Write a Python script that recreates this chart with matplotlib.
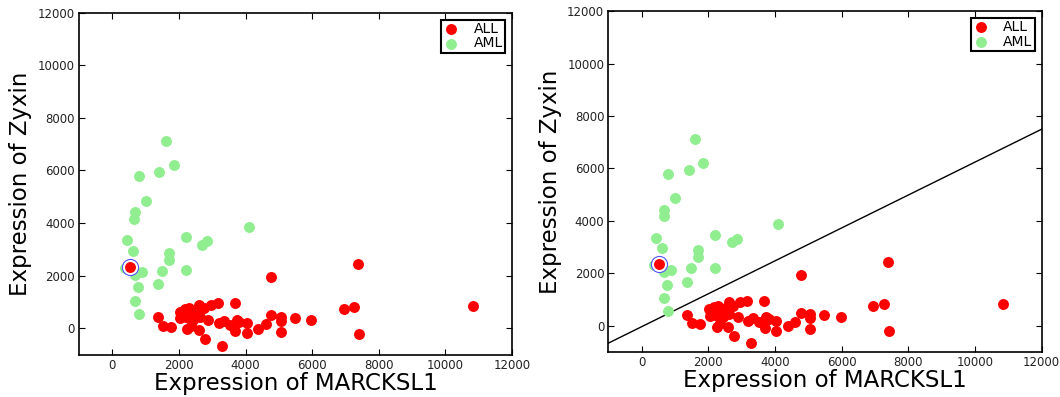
import matplotlib
matplotlib.use("Agg")
import matplotlib.pyplot as plt
import numpy as np

# ALL (red) points: MARCKSL1 expression, Zyxin expression
all_x = [1360, 1520, 1760, 2040, 2110, 2180, 2290, 2230, 2380, 2610, 2570, 2750,
         2960, 3160, 2880, 2630, 2430, 2250, 2360, 2600, 2770, 3280, 3200, 3350,
         3530, 3670, 3690, 3730, 3810, 4030, 4040, 4380, 4610, 4770, 4780, 5060,
         5060, 5060, 5480, 5980, 6950, 7260, 7390, 7410, 10840, 2030, 2500, 2200]
all_y = [418, 89, 51, 380, 570, 722, 760, 506, 468, 899, 696, 760,
         899, 950, 317, 443, 317, -38, 89, -63, -418, -658, 190, 278,
         127, 950, -101, 317, 240, 190, -190, -25, 152, 494, 1937, 443,
         278, -139, 405, 317, 734, 823, 2443, -215, 835, 633, 600, 420]

# AML (green) points
aml_x = [1600, 1850, 790, 1410, 1000, 670, 660, 4100, 430, 2200, 2700, 2850,
         620, 1700, 1700, 2200, 1480, 890, 680, 760, 1370, 680, 800, 380]
aml_y = [7120, 6200, 5800, 5930, 4850, 4410, 4170, 3860, 3350, 3470, 3170, 3300,
         2950, 2880, 2600, 2210, 2190, 2120, 2030, 1550, 1680, 1050, 550, 2300]

# highlighted (circled) sample
hl_x = [520]
hl_y = [2342]

# separating line (right panel): y = slope * x + intercept
line_slope = 0.628
line_intercept = -42

series_labels = ["ALL", "AML"]
x_label = "Expression of MARCKSL1"
y_label = "Expression of Zyxin"
x_ticks = [0, 2000, 4000, 6000, 8000, 10000, 12000]
y_ticks = [0, 2000, 4000, 6000, 8000, 10000, 12000]
lims = (-1000, 12000)

RED = "#ff0000"
GREEN = "#90ee90"

plt.rcParams['font.family'] = ['DejaVu Sans']
fig = plt.figure(figsize=(10.6, 3.97), dpi=100)
ax1 = fig.add_axes([0.0745, 0.107, 0.4085, 0.861])
ax2 = fig.add_axes([0.574, 0.114, 0.4087, 0.858])

S = 62
for i, ax in enumerate([ax1, ax2]):
    ax.scatter(all_x, all_y, s=S, c=RED, linewidths=0, label=series_labels[0], zorder=3)
    ax.scatter(aml_x, aml_y, s=S, c=GREEN, linewidths=0, label=series_labels[1], zorder=2)
    ax.scatter(hl_x, hl_y, s=135, facecolor="white", edgecolor="#5555ff",
               linewidths=0.8, zorder=4)
    ax.scatter(hl_x, hl_y, s=S, c=RED, linewidths=0, zorder=5)
    if i == 1:
        xs = np.array(lims)
        ax.plot(xs, line_slope * xs + line_intercept, color="black", lw=1.0, zorder=1)
    ax.set_xlim(*lims)
    ax.set_ylim(*lims)
    ax.set_xticks(x_ticks)
    ax.set_yticks(y_ticks)
    ax.tick_params(direction="in", top=True, right=True, length=4, width=0.8,
                   labelsize=8.5, labelcolor="#222222", pad=3)
    for sp in ax.spines.values():
        sp.set_linewidth(1.2)
    ax.set_xlabel(x_label, fontsize=16.5, labelpad=0)
    ax.set_ylabel(y_label, fontsize=16.5, labelpad=4)
    leg = ax.legend(loc="upper right", scatterpoints=1, fontsize=10,
                    fancybox=False, framealpha=1, borderaxespad=0.5,
                    handletextpad=1.0, borderpad=0.15, labelspacing=0.05,
                    handlelength=1.2, markerscale=1.0)
    leg.get_frame().set_edgecolor("black")
    leg.get_frame().set_linewidth(1.5)

fig.savefig("out.png", dpi=100)
